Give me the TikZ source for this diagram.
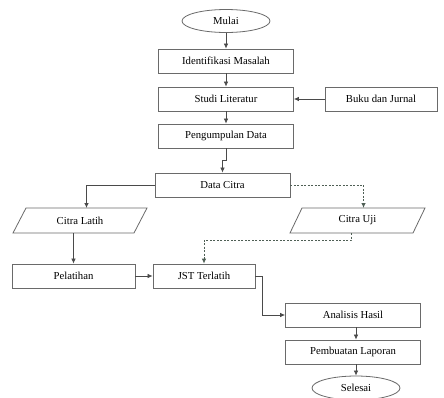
\documentclass[tikz,border=0pt]{standalone}
\usepackage{fontspec}
\setmainfont{Liberation Serif}
\usetikzlibrary{shapes.geometric,arrows.meta}
\definecolor{edge}{HTML}{6A6A6A}
\definecolor{wire}{HTML}{4A4A4A}
\definecolor{dwire}{HTML}{4F5F55}
\begin{document}
\begin{tikzpicture}[x=1pt,y=-1pt,
  font=\fontsize{10.7}{12}\selectfont,
  box/.style={draw=edge,line width=0.8pt,rectangle,minimum height=24pt,inner sep=0pt},
  oval/.style={draw=edge,line width=0.8pt,ellipse,minimum width=88pt,minimum height=23pt,inner sep=0pt},
  para/.style={draw=edge,line width=0.8pt},
  arr/.style={draw=wire,line width=0.75pt,-{Latex[length=5pt,width=4.5pt]}},
  darr/.style={draw=dwire,line width=0.85pt,dash pattern=on 2pt off 1.5pt,-{Latex[length=5pt,width=4.5pt]}}]
\useasboundingbox (0,0) rectangle (444,397);
\fill[white] (0,0) rectangle (444,397);
\begin{scope}
\clip (0,0) rectangle (444,397);
\node[oval] (mulai) at (226,21) {Mulai};
\node[box,minimum width=135pt] (ident) at (226,61) {Identifikasi Masalah};
\node[box,minimum width=135pt] (studi) at (226,99) {Studi Literatur};
\node[box,minimum width=112pt] (buku) at (381,99) {Buku dan Jurnal};
\node[box,minimum width=135pt] (kumpul) at (226,136) {Pengumpulan Data};
\node[box,minimum width=135pt] (data) at (222.5,185) {Data Citra};
% parallelograms
\draw[para] (26,208) -- (147,208) -- (134,233) -- (13,233) -- cycle;
\node (latih) at (80,220.5) {Citra Latih};
\coordinate (latihtop) at (86.5,208);
\coordinate (latihbot) at (73.5,233);
\draw[para] (302,208) -- (425,208) -- (413,233) -- (290,233) -- cycle;
\node (uji) at (357.5,220.5) {Citra Uji};
\coordinate (ujitop) at (363.5,208);
\coordinate (ujibot) at (351.5,233);
\node[box,minimum width=123pt] (pelatihan) at (73.5,276) {Pelatihan};
\node[box,minimum width=102pt] (jst) at (204,276) {JST Terlatih};
\node[box,minimum width=135pt] (analisis) at (353,315) {Analisis Hasil};
\node[box,minimum width=135pt] (laporan) at (353,352) {Pembuatan Laporan};
\node[oval,minimum height=24pt] (selesai) at (356,388) {Selesai};
% connectors
\draw[arr] (mulai) -- (ident);
\draw[arr] (ident) -- (studi);
\draw[arr] (buku) -- (studi);
\draw[arr] (studi) -- (kumpul);
\draw[arr] (kumpul.south) -- ++(0,12) -| (data.north);
\draw[arr] (data.west) -| (latihtop);
\draw[darr] (data.east) -| (ujitop);
\draw[arr] (latihbot) -- (pelatihan.north -| latihbot);
\draw[darr] (ujibot) -- ++(0,7) -| (jst.north);
\draw[arr] (pelatihan) -- (jst);
\draw[arr] (jst.east) -- ++(7,0) |- (analisis.west);
\draw[arr] (analisis.south -| selesai) -- (laporan.north -| selesai);
\draw[arr] (laporan.south -| selesai) -- (selesai.north);
\end{scope}
\end{tikzpicture}
\end{document}
